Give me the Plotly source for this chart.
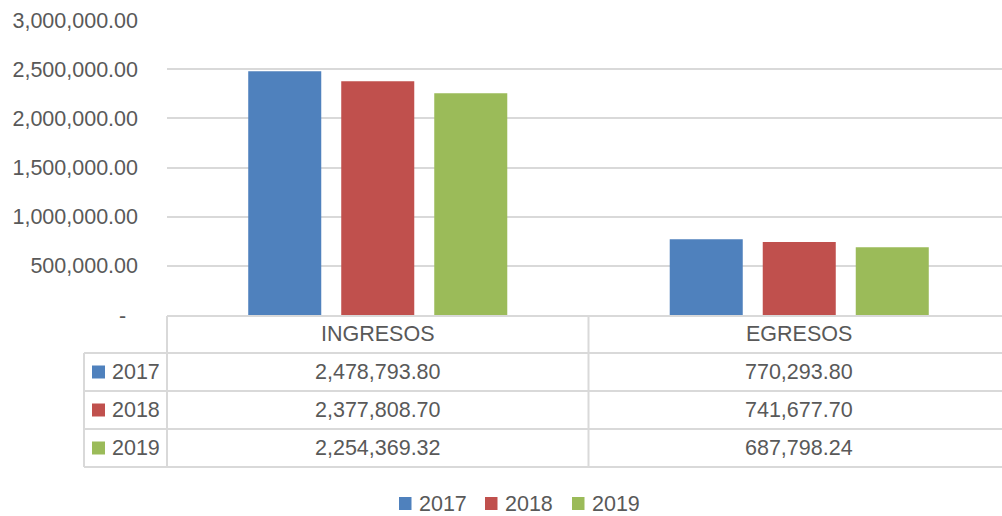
import plotly.graph_objects as go

# data
categories = ["INGRESOS", "EGRESOS"]
years = ["2017", "2018", "2019"]
values_2017 = [2478793.80, 770293.80]
values_2018 = [2377808.70, 741677.70]
values_2019 = [2254369.32, 687798.24]
series = [values_2017, values_2018, values_2019]
y_ticks = [0, 500000, 1000000, 1500000, 2000000, 2500000, 3000000]
y_tick_labels = ["-\u00a0\u00a0", "500,000.00", "1,000,000.00", "1,500,000.00",
                 "2,000,000.00", "2,500,000.00", "3,000,000.00"]

COLORS = ["#4F81BD", "#C0504D", "#9BBB59"]
TEXT = "#595959"
GRID = "#D9D9D9"
FONT = "Liberation Sans"
FS = 21.5

W, H = 1002, 516
PL, PR, PT, PB = 167, 1002, 20, 315
CAT_W = 421.5  # pixels per category


def fx(px):
    return (px - PL) / (PR - PL)


def fy(py):
    return (PB - py) / (PB - PT)


fig = go.Figure()
for yr, vals, col in zip(years, series, COLORS):
    fig.add_trace(go.Bar(x=categories, y=vals, name=yr, marker=dict(color=col, line=dict(width=0)),
                         showlegend=False))

# data table grid
shapes = []
line = dict(color=GRID, width=2)
shapes.append(dict(type="line", xref="paper", yref="paper", x0=0, x1=1, y0=fy(316), y1=fy(316), line=line))
for yy in [353, 391, 429, 467]:
    shapes.append(dict(type="line", xref="paper", yref="paper", x0=fx(84), x1=1, y0=fy(yy), y1=fy(yy), line=line))
shapes.append(dict(type="line", xref="paper", yref="paper", x0=fx(84), x1=fx(84), y0=fy(353), y1=fy(467), line=line))
shapes.append(dict(type="line", xref="paper", yref="paper", x0=0, x1=0, y0=fy(316), y1=fy(467), line=line))
shapes.append(dict(type="line", xref="x", yref="paper", x0=0.5, x1=0.5, y0=fy(316), y1=fy(467), line=line))

annotations = []
txt_font = dict(family=FONT, size=FS, color=TEXT)
for cat in categories:
    annotations.append(dict(x=cat, xref="x", y=fy(334), yref="paper", text=cat, showarrow=False,
                            font=txt_font, xanchor="center", yanchor="middle"))

row_y = [372, 410, 448]
for yr, vals, col, ry in zip(years, series, COLORS, row_y):
    shapes.append(dict(type="rect", xref="paper", yref="paper", x0=fx(92), x1=fx(105),
                       y0=fy(ry - 6.5), y1=fy(ry + 6.5), fillcolor=col, line=dict(width=0)))
    annotations.append(dict(x=fx(110), xref="paper", y=fy(ry), yref="paper", text=yr, showarrow=False,
                            font=txt_font, xanchor="left", yanchor="middle"))
    for cat, v in zip(categories, vals):
        annotations.append(dict(x=cat, xref="x", y=fy(ry), yref="paper", text=f"{v:,.2f}", showarrow=False,
                                font=txt_font, xanchor="center", yanchor="middle"))

# legend below the table (drawn by hand so it does not push the margins)
legend_x = [399, 485, 572]
for yr, col, lx in zip(years, COLORS, legend_x):
    shapes.append(dict(type="rect", xref="paper", yref="paper", x0=fx(lx), x1=fx(lx + 12.5),
                       y0=fy(497), y1=fy(510), fillcolor=col, line=dict(width=0)))
    annotations.append(dict(x=fx(lx + 18), xref="paper", y=fy(503.5), yref="paper", text=yr, showarrow=False,
                            font=txt_font, xanchor="left", yanchor="middle"))

fig.update_layout(
    width=W,
    height=H,
    margin=dict(l=PL, r=W - PR, t=PT, b=H - PB, pad=0),
    paper_bgcolor="white",
    plot_bgcolor="white",
    barmode="group",
    bargap=0.338,
    bargroupgap=0.215,
    showlegend=False,
    font=dict(family=FONT, size=FS, color=TEXT),
    xaxis=dict(range=[-0.5, -0.5 + (PR - PL) / CAT_W], showticklabels=False, showgrid=False,
               zeroline=False, showline=False, ticks=""),
    yaxis=dict(range=[0, 3000000], tickvals=y_ticks, ticktext=y_tick_labels, showgrid=True,
               gridcolor=GRID, gridwidth=1.5, zeroline=False, showline=False, ticks="",
               ticklabelstandoff=28, tickfont=txt_font),
    shapes=shapes,
    annotations=annotations,
)

# drop the default body margin so the figure sits at the page origin
fig.write_html("out.html", post_script="document.body.style.margin='0';",
               config={"displayModeBar": False})
